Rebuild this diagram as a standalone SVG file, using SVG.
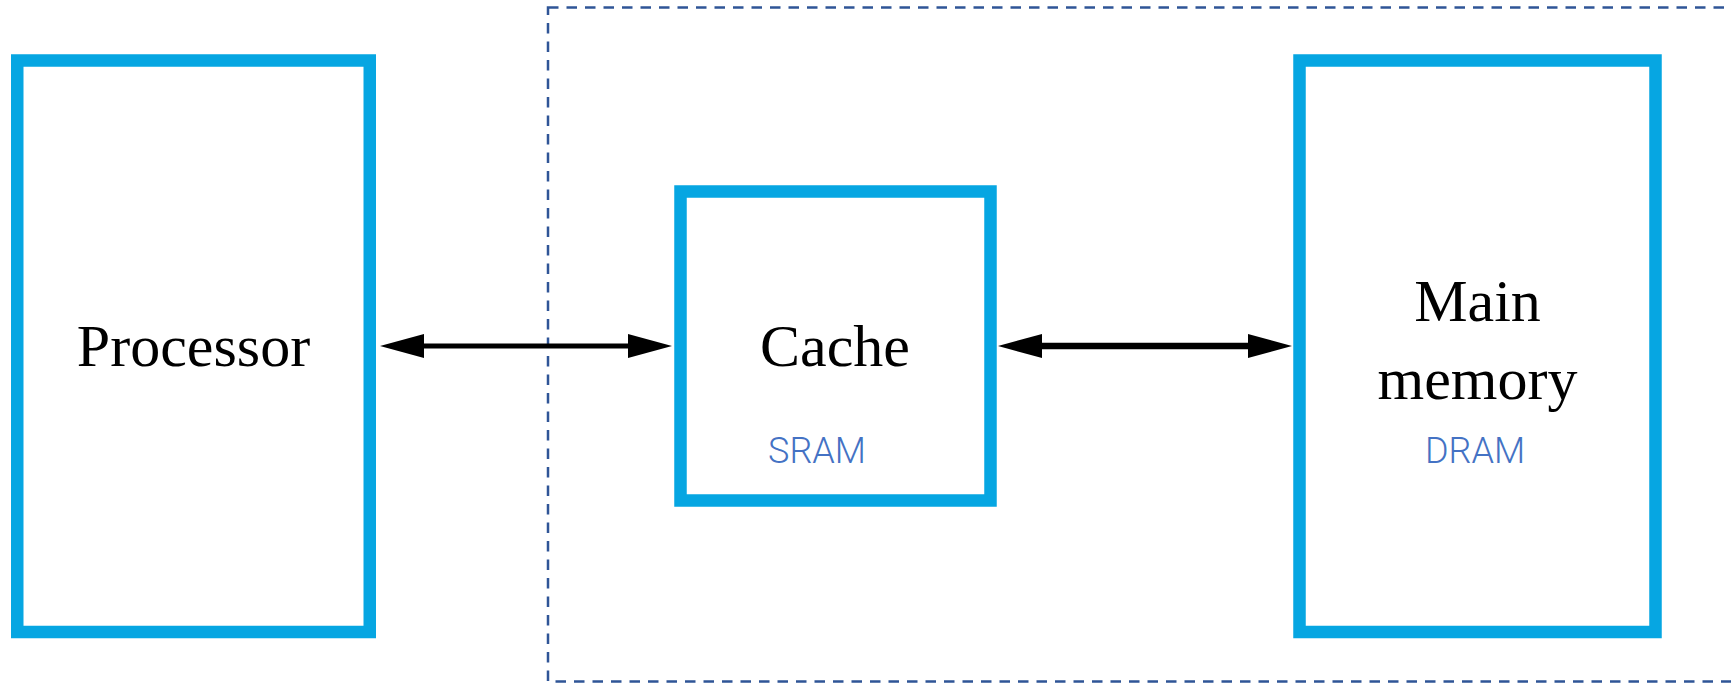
<svg xmlns="http://www.w3.org/2000/svg" width="1731" height="683" viewBox="0 0 1731 683">
  <style>
    .box { fill: #ffffff; stroke: #06a6e2; stroke-width: 12.5; }
    .lbl { font-family: "Liberation Serif", "Times New Roman", serif; font-size: 60px; fill: #000000; text-anchor: middle; }
    .sub { font-family: Roboto, "Liberation Sans", sans-serif; font-size: 36px; font-weight: 300; fill: #4472c4; text-anchor: middle; }
    .conn { stroke: #000000; fill: none; marker-start: url(#head); marker-end: url(#head); }
    .frame { fill: none; stroke: #2f5597; stroke-width: 2.5; stroke-dasharray: 10.5 8; }
  </style>
  <defs>
    <marker id="head" viewBox="0 0 44 24" refX="0" refY="12" markerWidth="44" markerHeight="24" markerUnits="userSpaceOnUse" orient="auto-start-reverse">
      <path d="M0,0 L44,12 L0,24 Z" fill="#000000"/>
    </marker>
  </defs>
  <rect width="1731" height="683" fill="#ffffff"/>
  <g id="boundary">
    <rect class="frame" x="548" y="7.5" width="1300" height="674"/>
  </g>
  <g id="processor">
    <rect class="box" x="17.25" y="60.5" width="352.5" height="571.5"/>
    <text class="lbl" x="193.5" y="366">Processor</text>
  </g>
  <g id="cache">
    <rect class="box" x="680.5" y="191.5" width="310" height="309"/>
    <text class="lbl" x="835" y="366">Cache</text>
    <text class="sub" x="817" y="463">SRAM</text>
  </g>
  <g id="main-memory">
    <rect class="box" x="1299.5" y="60.5" width="356" height="571.5"/>
    <text class="lbl" x="1477.5" y="321">Main</text>
    <text class="lbl" x="1477.5" y="398.5">memory</text>
    <text class="sub" x="1475" y="463">DRAM</text>
  </g>
  <g id="connectors">
    <path class="conn" d="M424,346 L628,346" stroke-width="5"/>
    <path class="conn" d="M1042,346 L1248,346" stroke-width="6.5"/>
  </g>
</svg>
